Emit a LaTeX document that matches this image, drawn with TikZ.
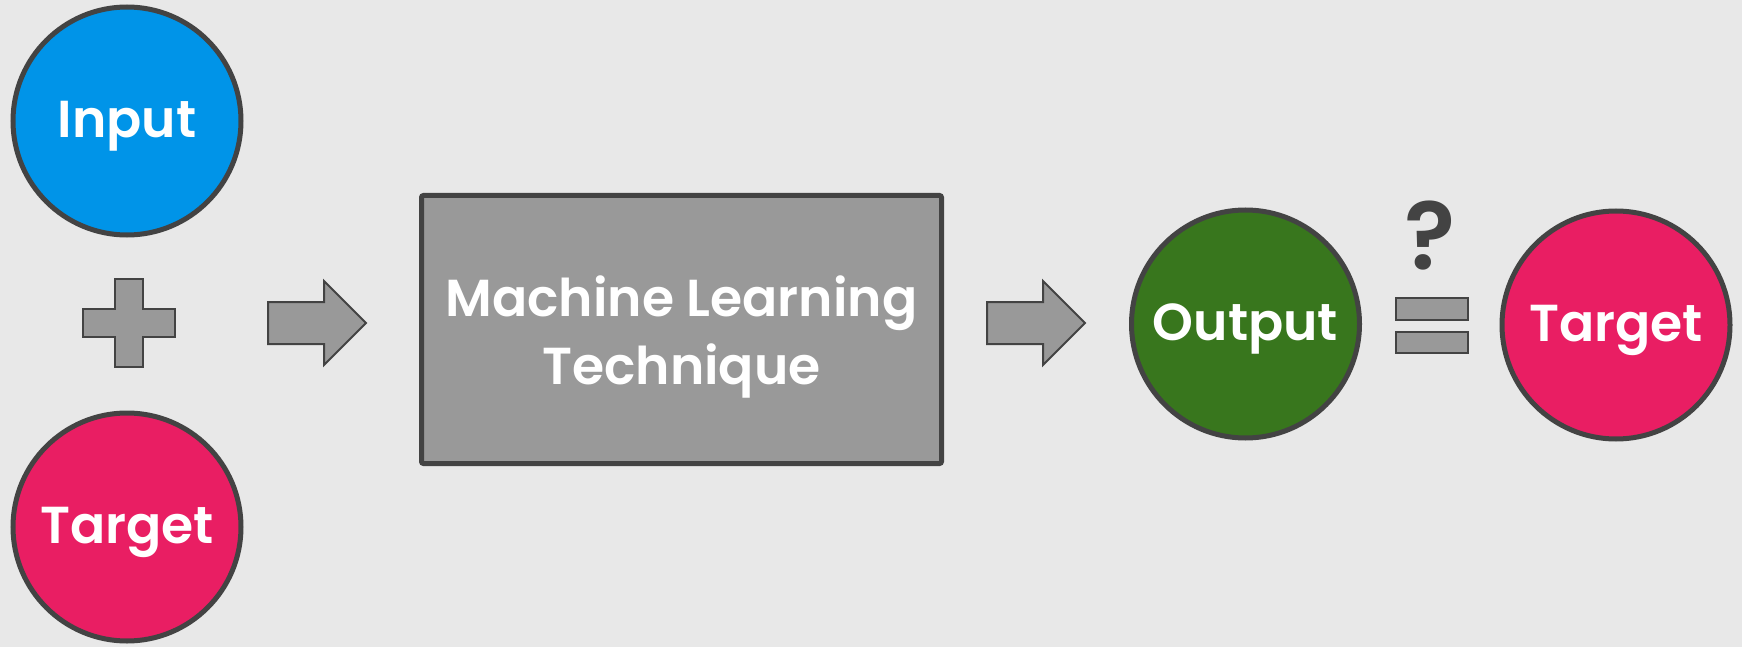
\documentclass[tikz,border=0pt]{standalone}
\usepackage{fontspec}
\setmainfont{Poppins}[BoldFont={Poppins SemiBold}]
\usetikzlibrary{positioning}
\definecolor{paper}{HTML}{E8E8E8}
\definecolor{inputblue}{HTML}{0094E8}
\definecolor{targetpink}{HTML}{E91E63}
\definecolor{outputgreen}{HTML}{38761D}
\definecolor{blockgrey}{HTML}{999999}
\definecolor{edgegrey}{HTML}{434343}

\begin{document}
\begin{tikzpicture}[
  x=1pt,y=-1pt,
  font=\fontsize{52}{68}\selectfont\bfseries,
  ball/.style={circle,draw=edgegrey,line width=5pt,minimum size=228pt,inner sep=0pt,text=white,
    text height=37.5pt,text depth=5pt},
  mlbox/.style={draw=edgegrey,fill=blockgrey,line width=5pt,rounded corners=2pt,minimum width=520pt,minimum height=268pt,
    align=center,text=white,text height=109pt,text depth=0pt},
  glyph/.style={draw=edgegrey,fill=blockgrey,line width=2pt},
]
\fill[paper] (0,0) rectangle (1742,647);
\useasboundingbox (0,0) rectangle (1742,647);

\node[ball,fill=inputblue] (input) at (127,121) {Input};
\node[ball,fill=targetpink] (target) at (127,527) {Target};
\node[mlbox] (ml) at (681.5,329.5) {Machine Learning\\Technique};
\node[ball,fill=outputgreen] (output) at (1245.5,324) {Output};
\node[ball,fill=targetpink] (goal) at (1616,325) {Target};
\node[text=edgegrey,font=\fontsize{95}{95}\selectfont\bfseries] (ask) at (1430,236) {?};

% plus sign
\draw[glyph,shift={(129,323)}] (-14,-44) -- (14,-44) -- (14,-14) -- (46,-14) -- (46,14) -- (14,14)
  -- (14,44) -- (-14,44) -- (-14,14) -- (-46,14) -- (-46,-14) -- (-14,-14) -- cycle;
% block arrows
\foreach \ax in {268,987}
  \draw[glyph,shift={(\ax,323)}] (0,-21) -- (56,-21) -- (56,-42) -- (98,0) -- (56,42) -- (56,21) -- (0,21) -- cycle;
% equals sign
\draw[glyph] (1396,298) rectangle (1468,320);
\draw[glyph] (1396,332) rectangle (1468,353);
\end{tikzpicture}
\end{document}
